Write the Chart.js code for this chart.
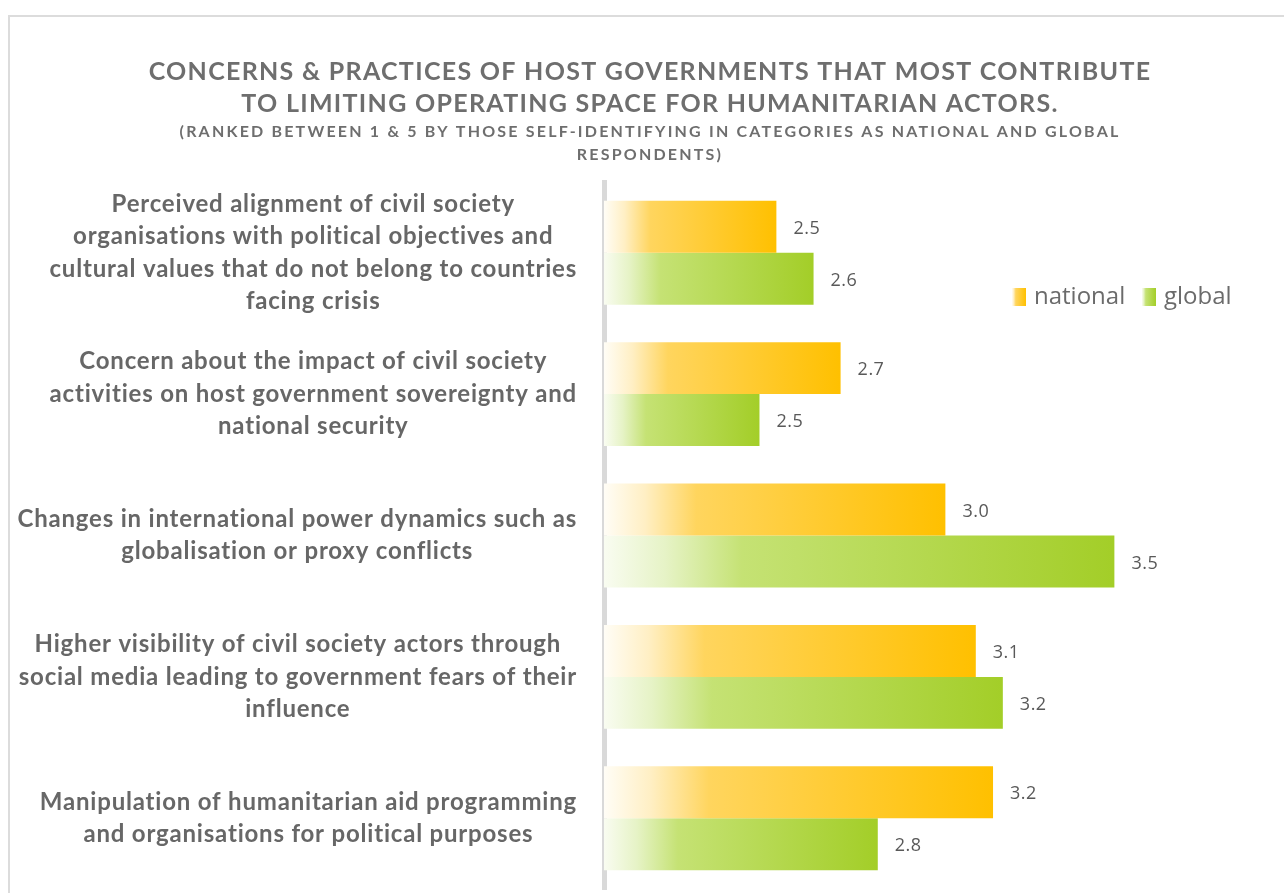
<!DOCTYPE html>
<html><head><meta charset="utf-8">
<script src="https://cdn.jsdelivr.net/npm/chart.js@4.4.1/dist/chart.umd.min.js"></script>
<style>
html,body{margin:0;padding:0;background:#fff;overflow:hidden}
#wrap{position:relative;width:1284px;height:893px}
#frame{position:absolute;left:8px;top:15px;width:1400px;height:1000px;border-left:2px solid #dcdcdc;border-top:2px solid #dcdcdc;}
canvas{position:absolute;left:0;top:0}
</style></head><body>
<div id="wrap"><div id="frame"></div><canvas id="c" width="1284" height="893"></canvas></div>
<script>
const categories = [
  ["Perceived alignment of civil society", "organisations with political objectives and", "cultural values that do not belong to countries", "facing crisis"],
  ["Concern about the impact of civil society", "activities on host government sovereignty and", "national security"],
  ["Changes in international power dynamics such as", "globalisation or proxy conflicts"],
  ["Higher visibility of civil society actors through", "social media leading to government fears of their", "influence"],
  ["Manipulation of humanitarian aid programming", "and organisations for political purposes"]
];
const seriesNames = ["national", "global"];
const nationalValues = [2.51, 2.70, 3.01, 3.10, 3.151];
const globalValues = [2.62, 2.46, 3.51, 3.18, 2.81];
const titleLines = ["CONCERNS & PRACTICES OF HOST GOVERNMENTS THAT MOST CONTRIBUTE", "TO LIMITING OPERATING SPACE FOR HUMANITARIAN ACTORS."];
const subtitleLines = ["(RANKED BETWEEN 1 & 5 BY THOSE SELF-IDENTIFYING IN CATEGORIES AS NATIONAL AND GLOBAL", "RESPONDENTS)"];
const axisMin = 2, axisMax = 4;

const nationalStops = [[0, '#FFFDF6'], [0.12, '#FFEFC4'], [0.27, '#FFD55E'], [1, '#FFC000']];
const globalStops = [[0, '#F9FCF1'], [0.12, '#E6F3C6'], [0.27, '#C5E274'], [1, '#A3CE28']];

function gradFill(stops) {
  return (ctx) => {
    const chart = ctx.chart;
    const xs = chart.scales.x;
    if (!xs || ctx.type !== 'data' || ctx.raw == null) return stops[stops.length - 1][1];
    const x0 = xs.getPixelForValue(axisMin), x1 = xs.getPixelForValue(ctx.raw);
    if (!isFinite(x0) || !isFinite(x1) || x1 <= x0) return stops[stops.length - 1][1];
    const g = chart.ctx.createLinearGradient(x0, 0, x1, 0);
    stops.forEach(([o, c]) => g.addColorStop(o, c));
    return g;
  };
}

// letter spacing for title / subtitle boxes
const spacingPlugin = {
  id: 'spacing',
  afterLayout(chart) {
    chart.boxes.forEach(b => {
      if (b._spaced || !b.options || !b.options.text) return;
      const t = b.options.text;
      const first = Array.isArray(t) ? t[0] : t;
      let sp = null;
      if (first === titleLines[0]) sp = '1.3px';
      else if (first === subtitleLines[0]) sp = '2.2px';
      if (!sp) return;
      const orig = b.draw.bind(b);
      b.draw = function (area) {
        const c = this.ctx;
        const prev = c.letterSpacing;
        c.letterSpacing = sp;
        orig(area);
        c.letterSpacing = prev || '0px';
      };
      b._spaced = true;
    });
  }
};

const valueLabels = {
  id: 'valueLabels',
  afterDatasetsDraw(chart) {
    const ctx = chart.ctx;
    ctx.save();
    ctx.letterSpacing = '0.5px';
    ctx.font = '18px "Open Sans"';
    ctx.fillStyle = '#595959';
    ctx.textAlign = 'left';
    ctx.textBaseline = 'middle';
    chart.data.datasets.forEach((ds, di) => {
      chart.getDatasetMeta(di).data.forEach((el, i) => {
        ctx.fillText(ds.data[i].toFixed(1), el.x + 17, el.y + 2);
      });
    });
    ctx.restore();
  }
};

const categoryLabels = {
  id: 'categoryLabels',
  afterDraw(chart) {
    const ctx = chart.ctx;
    const ys = chart.scales.y;
    ctx.save();
    ctx.letterSpacing = '0.8px';
    ctx.font = 'bold 24px Lato';
    ctx.fillStyle = '#676767';
    ctx.textAlign = 'center';
    ctx.textBaseline = 'middle';
    const right = chart.chartArea.left - 27;
    const lh = 32.4;
    chart.data.labels.forEach((lines, i) => {
      const cy = ys.getPixelForTick(i);
      const w = Math.max(...lines.map(l => ctx.measureText(l).width));
      const cx = right - w / 2;
      lines.forEach((l, j) => ctx.fillText(l, cx, cy + (j - (lines.length - 1) / 2) * lh));
    });
    ctx.restore();
  }
};

const legendPlugin = {
  id: 'customLegend',
  afterDraw(chart) {
    const ctx = chart.ctx;
    ctx.save();
    ctx.letterSpacing = '0px';
    ctx.font = '24px "Open Sans"';
    ctx.textAlign = 'left';
    ctx.textBaseline = 'middle';
    const starts = [1012, 1142];
    const allStops = [nationalStops, globalStops];
    const y = 297;
    chart.data.datasets.forEach((ds, i) => {
      const x = starts[i];
      const g = ctx.createLinearGradient(x, 0, x + 14, 0);
      allStops[i].forEach(([o, c]) => g.addColorStop(o, c));
      ctx.fillStyle = g;
      ctx.fillRect(x, y - 9, 14, 18);
      ctx.fillStyle = '#6b6b6b';
      ctx.fillText(ds.label, x + 22, y);
    });
    ctx.restore();
  }
};

new Chart(document.getElementById('c'), {
  type: 'bar',
  data: {
    labels: categories,
    datasets: [
      { label: seriesNames[0], data: nationalValues, base: axisMin, backgroundColor: gradFill(nationalStops), borderWidth: 0 },
      { label: seriesNames[1], data: globalValues, base: axisMin, backgroundColor: gradFill(globalStops), borderWidth: 0 }
    ]
  },
  options: {
    indexAxis: 'y',
    responsive: false,
    animation: false,
    datasets: { bar: { categoryPercentage: 0.735, barPercentage: 1.0 } },
    layout: { padding: { left: 20, right: 4, top: 0, bottom: 4 } },
    plugins: {
      legend: { display: false },
      tooltip: { enabled: false },
      title: {
        display: true, text: titleLines, color: '#6e6e6e',
        font: { family: 'Lato', size: 25, weight: 'bold', lineHeight: 32 / 25 },
        padding: { top: 56, bottom: 0 }
      },
      subtitle: {
        display: true, text: subtitleLines, color: '#6e6e6e',
        font: { family: 'Lato', size: 16, weight: 'bold', lineHeight: 23.5 / 16 },
        padding: { top: 0, bottom: 15 }
      }
    },
    scales: {
      x: { display: false, min: axisMin, max: axisMax },
      y: {
        display: true,
        grid: { display: false, drawTicks: false },
        ticks: { display: false },
        border: { display: true, color: '#d9d9d9', width: 5 },
        afterFit(s) { s.width = 584; }
      }
    }
  },
  plugins: [spacingPlugin, valueLabels, categoryLabels, legendPlugin]
});
</script>
</body></html>
